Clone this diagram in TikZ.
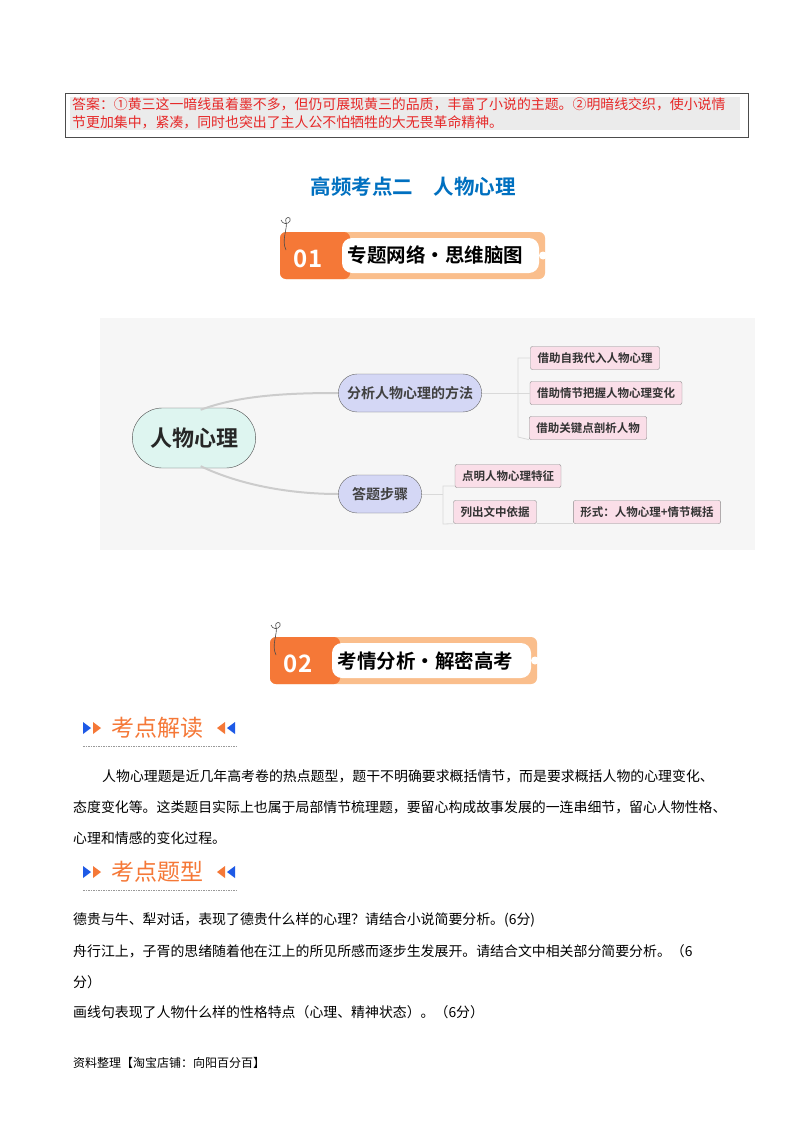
\documentclass[tikz,border=0pt]{standalone}
\usepackage{fontspec}
\setmainfont{Noto Sans CJK SC}
\newfontfamily\cjkb{Noto Sans CJK SC Bold}
\usetikzlibrary{shapes.misc}
\definecolor{ans}{RGB}{230,40,40}
\definecolor{ttl}{RGB}{0,112,192}
\definecolor{org}{RGB}{245,120,55}
\definecolor{orgl}{RGB}{250,190,140}
\definecolor{mmbg}{RGB}{246,246,246}
\definecolor{rootc}{RGB}{222,245,240}
\definecolor{midc}{RGB}{212,215,245}
\definecolor{leafc}{RGB}{250,222,232}
\definecolor{tblue}{RGB}{30,90,230}
\begin{document}
\begin{tikzpicture}[x=1pt,y=-1pt,
  txt/.style={anchor=west,inner sep=0pt,font=\fontsize{13.9}{14}\selectfont},
  rootbox/.style={draw=black!70,fill=rootc,rounded rectangle,minimum width=130,minimum height=60,font=\cjkb\fontsize{22}{24}\selectfont,text=black!85},
  midbox/.style={draw=black!60,fill=midc,rounded rectangle,minimum height=38,font=\cjkb\fontsize{14}{16}\selectfont,text=black!75},
  leaf/.style={draw=black!45,fill=leafc,rounded corners=2,minimum height=23,inner xsep=7,font=\cjkb\fontsize{11.5}{13}\selectfont,text=black!80},
  link/.style={draw=black!20,line width=2},
  brk/.style={draw=black!15,line width=0.8},
  sechead/.style={anchor=west,inner sep=0pt,text=org,font=\fontsize{23}{25}\selectfont}]
\useasboundingbox (0,0) rectangle (800,1132);
\fill[white] (0,0) rectangle (800,1132);
% answer box
\fill[black!8] (70,97) rectangle (740,130);
\draw[black!70,line width=0.8] (65,93) rectangle (748,137);
\node[txt,text=ans,font=\fontsize{13.9}{14}\selectfont] (a1) at (72,104) {答案：①黄三这一暗线虽着墨不多，但仍可展现黄三的品质，丰富了小说的主题。②明暗线交织，使小说情};
\node[txt,text=ans,font=\fontsize{13.9}{14}\selectfont] (a2) at (72,122) {节更加集中，紧凑，同时也突出了主人公不怕牺牲的大无畏革命精神。};
\node[text=ttl,font=\cjkb\fontsize{20.5}{22}\selectfont] (title) at (413,187) {高频考点二\quad 人物心理};
% banners
\foreach \y/\n/\t/\xa/\xb in {232/01/专题网络·思维脑图/280/545, 637/02/考情分析·解密高考/270/537}{
  \fill[orgl,rounded corners=6] (\xa,\y) rectangle (\xb,\y+47);
  \fill[org,rounded corners=6] (\xa,\y) rectangle (\xa+70,\y+47);
  \fill[white,rounded corners=10] (\xa+62,\y+6) rectangle (\xb-6,\y+41);
  \fill[white] (\xb-2,\y+23.5) circle (4);
  \node[white,font=\cjkb\fontsize{24}{26}\selectfont] at (\xa+28,\y+27) {\n};
  \node[anchor=west,font=\cjkb\fontsize{19.5}{21}\selectfont] at (\xa+64,\y+23.5) {\t};
  \draw[black!70,line width=0.6] (\xa+6,\y+18) .. controls (\xa+1,\y+8) and (\xa+8,\y-4) .. (\xa+6,\y-10) .. controls (\xa+4,\y-16) and (\xa+12,\y-16) .. (\xa+10,\y-11) .. controls (\xa+8,\y-7) and (\xa+2,\y-8) .. (\xa+1,\y-12);
}
% mind map
\fill[mmbg] (100,318) rectangle (755,550);
\node[rootbox] (root) at (194,438) {人物心理};
\node[midbox,minimum width=150] (m1) at (410,393) {分析人物心理的方法};
\node[midbox,minimum width=90] (m2) at (380,494) {答题步骤};
\node[leaf] (l1) at (595,358) {借助自我代入人物心理};
\node[leaf] (l2) at (606,393) {借助情节把握人物心理变化};
\node[leaf] (l3) at (588,428) {借助关键点剖析人物};
\node[leaf] (l4) at (508,476) {点明人物心理特征};
\node[leaf] (l5) at (495,512) {列出文中依据};
\node[leaf] (l6) at (647,512) {形式：人物心理+情节概括};
\draw[link] (root.north east) ++(-25,2) .. controls (240,395) and (290,393) .. (m1.west);
\draw[link] (root.south east) ++(-25,-2) .. controls (240,485) and (290,494) .. (m2.west);
\draw[brk] (m1.east) -- (518,393);
\draw[brk] (l1.west) -| (518,437) -- (l3.south west);
\draw[brk] (518,393) -- (l2.west);
\draw[brk] (m2.east) -- (443,494);
\draw[brk] (l4.west) ++(0,10) -| (443,524) -- (l5.south west);
\draw[brk] (l5.south east) -- (l6.south west);
% section headers
\foreach \y/\t in {728/考点解读, 872/考点题型}{
  \fill[tblue] (83,\y-6) -- (91,\y) -- (83,\y+6) -- cycle;
  \fill[org] (93,\y-6) -- (101,\y) -- (93,\y+6) -- cycle;
  \node[sechead] at (111,\y) {\t};
  \fill[org] (225,\y-6) -- (217,\y) -- (225,\y+6) -- cycle;
  \fill[tblue] (235,\y-6) -- (227,\y) -- (235,\y+6) -- cycle;
  \draw[black!40,dashed,dash pattern=on 1.5pt off 1pt] (83,\y+18) -- (236,\y+18);
}
\node[txt] (p1) at (102,776) {人物心理题是近几年高考卷的热点题型，题干不明确要求概括情节，而是要求概括人物的心理变化、};
\node[txt] (p2) at (73,807) {态度变化等。这类题目实际上也属于局部情节梳理题，要留心构成故事发展的一连串细节，留心人物性格、};
\node[txt] (p3) at (73,838) {心理和情感的变化过程。};
\node[txt] (q1) at (73,920) {德贵与牛、犁对话，表现了德贵什么样的心理？请结合小说简要分析。(6分)};
\node[txt] (q2) at (73,951) {舟行江上，子胥的思绪随着他在江上的所见所感而逐步生发展开。请结合文中相关部分简要分析。（6};
\node[txt] (q3) at (73,982) {分）};
\node[txt] (q4) at (73,1012) {画线句表现了人物什么样的性格特点（心理、精神状态）。（6分）};
\node[txt,font=\fontsize{12}{12}\selectfont] (foot) at (73,1063) {资料整理【淘宝店铺：向阳百分百】};
\end{tikzpicture}
\end{document}
